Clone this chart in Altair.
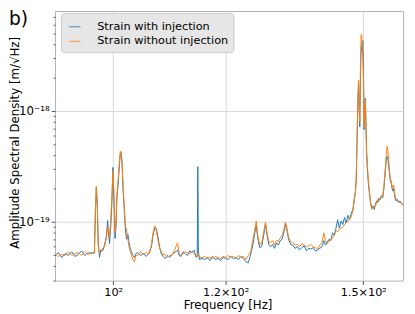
import altair as alt
import pandas as pd

# Frequency grid (Hz) shared by both spectra
freq_hz = [
    91.0, 91.5, 92.0, 92.5, 93.0, 93.5, 94.0, 94.5, 95.0, 95.5, 96.0, 96.5, 97.0,
    97.15, 97.3, 97.45, 97.6, 97.8, 98.0, 98.3, 98.6, 98.9, 99.1, 99.25, 99.4, 99.6,
    99.8, 99.95, 100.1, 100.3, 100.45, 100.6, 100.8, 101.0, 101.15, 101.3, 101.45,
    101.6, 101.8, 102.0, 102.2, 102.4, 102.6, 102.8, 103.0, 103.25, 103.5, 103.75,
    104.0, 104.5, 105.0, 105.5, 106.0,
    106.4, 106.7, 107.0, 107.2, 107.5, 107.8, 108.1, 108.4,
    108.8, 109.2, 109.6, 110.0, 110.4, 110.7, 111.0, 111.3, 111.6, 112.0, 112.4,
    112.8, 113.2, 113.6, 114.0, 114.4,
    114.6, 114.7, 114.8, 115.0,
    115.5, 116.0, 116.5, 117.0, 117.5, 118.0, 118.5, 119.0, 119.5, 120.0, 120.5,
    121.0, 121.5, 122.0, 122.5, 123.0, 123.5, 124.0, 124.5,
    125.0, 125.4, 125.8, 126.1, 126.4, 126.8, 127.2, 127.6, 128.0, 128.3, 128.7,
    129.1, 129.5, 129.9, 130.3, 130.7, 131.1, 131.5, 131.9, 132.2, 132.5, 132.9, 133.3,
    133.8, 134.3, 134.8, 135.3, 135.8, 136.3, 136.8, 137.3, 137.8, 138.3, 138.8,
    139.3, 139.8, 140.3, 140.7, 141.1, 141.5, 141.9, 142.3, 142.7, 143.1, 143.5,
    143.9, 144.3, 144.7, 145.1, 145.5, 145.9, 146.3, 146.7, 147.1, 147.5, 147.8,
    148.1, 148.3, 148.5, 148.7, 148.85,
    149.0, 149.15, 149.3, 149.45, 149.6, 149.75, 149.9, 150.05, 150.2, 150.35, 150.5,
    150.65, 150.8, 151.0, 151.25, 151.5, 151.8, 152.1, 152.4,
    152.7, 153.0, 153.3, 153.6, 153.9, 154.2, 154.5, 154.8, 155.1, 155.4, 155.7,
    155.9, 156.1, 156.4, 156.7, 157.0, 157.3, 157.6, 157.9, 158.2, 158.5, 158.8,
    159.1, 159.4, 159.7, 160.0,
]

# Amplitude spectral density, in units of 1e-20 m/sqrt(Hz)
asd_with_e20 = [
    5.0, 5.3, 4.8, 5.2, 5.0, 5.4, 4.9, 5.1, 5.5, 5.0, 5.3, 5.2, 5.4,
    12.0, 20.5, 14.0, 6.5, 4.8, 5.6, 5.5, 6.2, 7.5, 10.3, 8.0, 6.4, 9.0,
    16.0, 31.0, 17.0, 7.1, 9.0, 16.5, 22.0, 32.0, 41.0, 42.0, 33.0,
    20.0, 13.0, 8.5, 7.0, 7.8, 6.5, 5.8, 5.4, 5.0, 4.8, 5.2,
    5.3, 5.0, 5.2, 4.9, 5.3,
    6.0, 7.8, 9.0, 8.8, 7.5, 6.0, 5.2, 4.9,
    4.7, 5.0, 4.8, 5.1, 5.3, 5.4, 5.6, 5.0, 4.9, 5.4, 5.2,
    5.0, 5.5, 5.3, 5.6, 4.8,
    5.0, 31.5, 5.5, 4.6,
    4.7, 4.6, 4.8, 4.5, 4.9, 4.6, 4.7, 4.5, 4.8, 4.7, 4.6,
    4.9, 4.7, 4.8, 4.6, 4.9, 4.7, 4.4, 4.3,
    5.2, 6.2, 8.0, 9.3, 7.2, 5.9, 6.0, 7.5, 9.5, 7.8, 6.2,
    6.0, 6.3, 5.8, 6.5, 6.2, 6.8, 7.0, 8.2, 9.5, 8.5, 7.0, 6.3,
    6.2, 5.8, 6.0, 5.6, 5.9, 6.1, 5.5, 5.8, 5.7, 5.9, 5.5,
    5.6, 5.8, 6.0, 6.8, 6.2, 6.6, 7.0, 6.8, 8.0, 7.6, 8.8,
    10.5, 8.8, 10.2, 9.5, 11.0, 9.8, 11.5, 10.5, 12.0, 13.0, 16.0,
    19.0, 24.0, 55.0, 120.0, 180.0,
    110.0, 72.0, 180.0, 330.0, 380.0, 400.0, 430.0, 250.0, 68.0, 100.0, 130.0,
    80.0, 45.0, 30.0, 22.0, 18.0, 15.0, 13.5, 14.0,
    13.0, 14.5, 15.5, 15.0, 16.5, 16.0, 17.0, 16.5, 20.0, 27.0, 36.0,
    39.0, 37.0, 30.0, 24.0, 22.0, 19.0, 20.0, 16.5, 15.5, 16.0, 15.0,
    15.5, 14.8, 14.5, 14.2,
]

asd_without_e20 = [
    5.2, 4.9, 5.1, 5.0, 5.4, 5.0, 5.2, 5.3, 5.0, 5.4, 5.1, 5.3, 5.2,
    13.0, 21.0, 15.0, 6.0, 5.2, 5.3, 5.8, 6.0, 7.2, 9.0, 8.5, 7.2, 10.5,
    18.0, 29.0, 19.0, 8.0, 10.0, 17.5, 24.0, 34.0, 43.5, 43.0, 34.0,
    22.0, 14.0, 9.2, 8.5, 7.0, 6.0, 5.5, 5.0, 4.6, 4.4, 5.0,
    5.0, 5.4, 5.1, 5.3, 5.2,
    6.3, 8.2, 9.2, 8.5, 7.0, 5.8, 5.4, 5.1,
    5.1, 4.8, 5.0, 5.0, 5.5, 6.0, 6.5, 5.2, 5.0, 5.2, 5.4,
    5.3, 5.2, 5.4, 5.2, 5.0,
    4.9, 5.0, 5.2, 4.8,
    4.8, 4.9, 4.7, 4.8, 4.7, 4.9, 4.8, 4.7, 4.9, 4.8, 5.0,
    4.8, 4.9, 4.7, 5.0, 4.8, 4.9, 4.6, 5.0,
    5.5, 6.8, 8.6, 10.2, 7.6, 6.3, 6.4, 8.0, 10.0, 8.2, 6.6,
    6.5, 6.8, 6.2, 6.8, 6.7, 7.2, 7.6, 8.6, 10.0, 9.0, 7.3, 6.7,
    6.5, 6.2, 6.3, 6.0, 6.4, 6.2, 6.0, 6.1, 6.3, 6.0, 5.9,
    5.7, 6.2, 6.6, 8.0, 6.8, 6.4, 6.8, 6.9, 7.2, 7.5, 8.4,
    8.2, 8.6, 8.8, 9.0, 9.5, 9.8, 10.2, 10.5, 11.2, 12.5, 15.5,
    18.5, 25.0, 60.0, 130.0, 190.0,
    120.0, 80.0, 250.0, 470.0, 490.0, 380.0, 300.0, 180.0, 70.0, 110.0, 125.0,
    75.0, 42.0, 32.0, 24.0, 19.0, 14.5, 13.0, 13.8,
    13.5, 14.0, 15.0, 16.0, 15.5, 16.5, 17.5, 17.0, 21.0, 29.0, 40.0,
    48.0, 44.0, 33.0, 25.0, 23.0, 20.0, 21.5, 17.5, 16.0, 15.5, 15.5,
    15.0, 15.2, 14.6, 14.0,
]

series_names = ["Strain with injection", "Strain without injection"]
series_colors = ["#1f77b4", "#ff7f0e"]

x_domain = [91.0, 160.0]
y_domain = [2.97e-20, 7.95e-18]

x_tick_values = [100, 120, 150]
x_tick_labels = ["10²", "1.2×10²", "1.5×10²"]
y_major_values = [1e-19, 1e-18]
y_major_labels = ["10⁻¹⁹", "10⁻¹⁸"]
y_minor_values = [3e-20, 4e-20, 5e-20, 6e-20, 7e-20, 8e-20, 9e-20,
                  2e-19, 3e-19, 4e-19, 5e-19, 6e-19, 7e-19, 8e-19, 9e-19,
                  2e-18, 3e-18, 4e-18, 5e-18, 6e-18, 7e-18]

assert len(freq_hz) == len(asd_with_e20) == len(asd_without_e20)

df_with = pd.DataFrame({"freq": freq_hz,
                        "asd": [v * 1e-20 for v in asd_with_e20],
                        "series": series_names[0]})
df_without = pd.DataFrame({"freq": freq_hz,
                           "asd": [v * 1e-20 for v in asd_without_e20],
                           "series": series_names[1]})

x_expr = "".join(f"datum.value == {v} ? '{l}' : " for v, l in zip(x_tick_values, x_tick_labels)) + "''"
y_expr = "".join(f"datum.value == {v} ? '{l}' : " for v, l in zip(y_major_values, y_major_labels)) + "''"
y_major_test = " || ".join(f"datum.value == {v}" for v in y_major_values)

x_enc = alt.X("freq:Q",
              scale=alt.Scale(type="log", domain=x_domain, nice=False),
              axis=alt.Axis(values=x_tick_values, labelExpr=x_expr, title="Frequency [Hz]",
                            tickSize=4, labelPadding=2, labelOverlap=False,
                            titleX=176, titleY=28, titleBaseline="alphabetic",
                            titleAlign="center"))
y_enc = alt.Y("asd:Q",
              scale=alt.Scale(type="log", domain=y_domain, nice=False),
              axis=alt.Axis(values=y_major_values + y_minor_values, labelExpr=y_expr,
                            title="Amplitude Spectral Density [m/√Hz]",
                            tickSize={"condition": {"test": y_major_test, "value": 4}, "value": 2},
                            gridOpacity={"condition": {"test": y_major_test, "value": 1}, "value": 0},
                            labelPadding=2, labelOverlap=False, labelFontSize=12,
                            titleX=-34, titleY=134, titleBaseline="bottom",
                            titleAlign="center"))
color_enc = alt.Color("series:N",
                      scale=alt.Scale(domain=series_names, range=series_colors),
                      legend=alt.Legend(title=None, orient="none", legendX=6, legendY=2,
                                        fillColor="#e6e6e6", strokeColor="#cccccc",
                                        cornerRadius=3, padding=5,
                                        symbolType="M-0.75,0H0.75", symbolSize=256,
                                        symbolStrokeWidth=1.5, symbolOpacity=0.55,
                                        labelFontSize=11.5, labelOffset=14, rowPadding=0,
                                        labelColor="#000000"))

line_with = alt.Chart(df_with).mark_line(strokeWidth=1, clip=True).encode(
    x=x_enc, y=y_enc, color=color_enc)
line_without = alt.Chart(df_without).mark_line(strokeWidth=1, clip=True).encode(
    x=x_enc, y=y_enc, color=color_enc)

panel_label = alt.Chart(pd.DataFrame({"t": ["b)"]})).mark_text(
    align="left", baseline="alphabetic", fontSize=19, color="#000000").encode(
    x=alt.value(-47), y=alt.value(14), text="t:N")

chart = alt.layer(line_with, line_without, panel_label).properties(
    width=355, height=275,
    padding={"left": 48, "top": 0, "right": 4, "bottom": 31},
    autosize=alt.AutoSizeParams(type="none"),
).configure(font="DejaVu Sans").configure_view(
    stroke="#b0b0b0", strokeWidth=1
).configure_axis(
    domain=False, grid=True, gridColor="#d9d9d9", gridWidth=1,
    tickColor="#555555", labelColor="#000000", titleColor="#000000",
    labelFontSize=11.5, titleFontSize=12, titleFontWeight="normal",
    labelFont="DejaVu Sans", titleFont="DejaVu Sans"
).configure_legend(labelFont="DejaVu Sans")

chart.save("out.html", embed_options={"renderer": "svg", "actions": False})
